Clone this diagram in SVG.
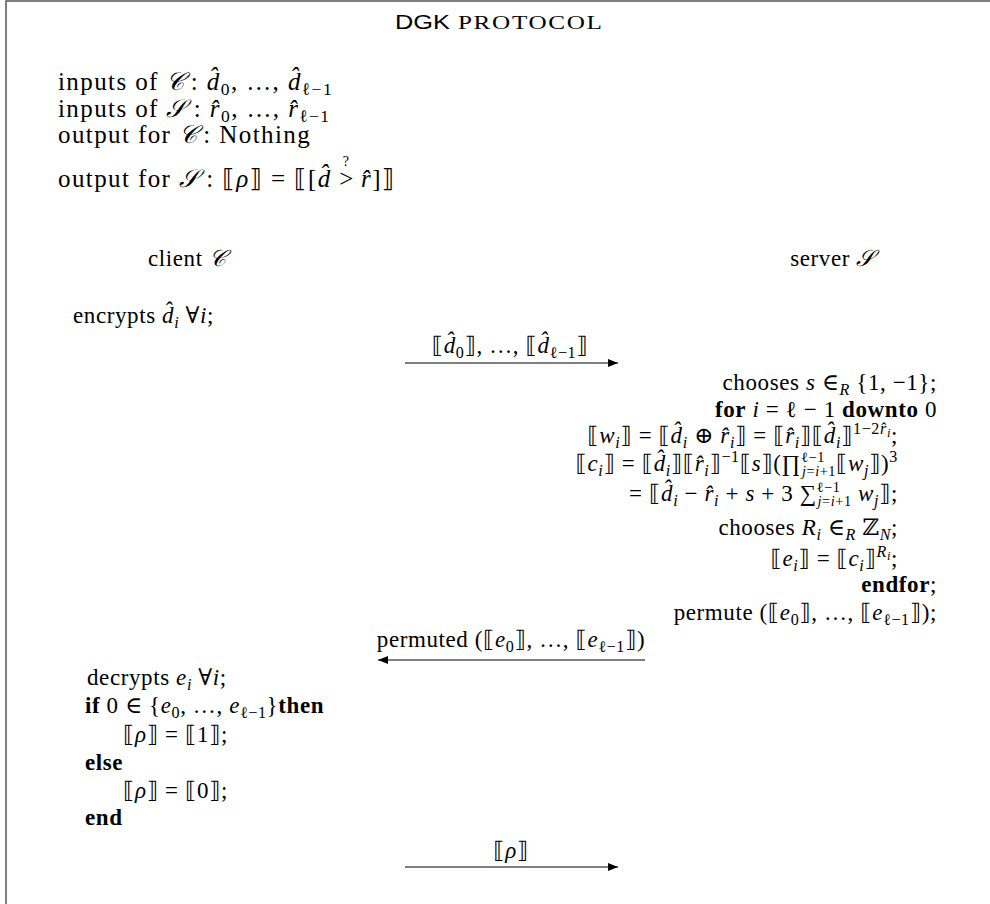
<svg xmlns="http://www.w3.org/2000/svg" width="990" height="904" viewBox="0 0 990 904">
<style>
text{font-family:"Liberation Serif","DejaVu Serif","DejaVu Sans",serif;fill:#000}
.big{font-size:25px;letter-spacing:1.4px}
.sm{font-size:23px;letter-spacing:0.6px}
.i{font-style:italic}
.b{font-weight:bold}
.s{font-size:70%}
.l{font-size:62%}
.ss{font-size:55%}
.ln{stroke:#000;stroke-width:1.2;fill:none}
.frame{stroke:#555;stroke-width:1.5;fill:none}
</style>
<defs>
<marker id="ah" viewBox="0 0 10 8" refX="10" refY="4" markerWidth="11" markerHeight="8" markerUnits="userSpaceOnUse" orient="auto"><path d="M0,0 L10,4 L0,8 z" fill="#000"/></marker>
</defs>
<rect width="990" height="904" fill="#fff"/>
<path class="frame" d="M6,904 V1 H990"/>

<g id="title">
<text transform="scale(1.2,1)" x="329.2" y="29" font-size="21" textLength="45.8" lengthAdjust="spacingAndGlyphs" style="font-family:'Liberation Sans',sans-serif">DGK</text>
<text transform="scale(1.4,1)" x="327.1" y="29" font-size="18" textLength="102.9" lengthAdjust="spacing">PROTOCOL</text>
</g>

<g id="io">
<text class="big" x="58" y="90">inputs of <tspan class="i">𝒞</tspan><tspan dx="5">: </tspan><tspan class="i">d&#770;</tspan><tspan class="s" dy="5">0</tspan><tspan dy="-5">, …, </tspan><tspan class="i">d&#770;</tspan><tspan class="s" dy="5">ℓ−1</tspan></text>
<text class="big" x="58" y="117">inputs of <tspan class="i">𝒮</tspan><tspan dx="7">: </tspan><tspan class="i">r&#770;</tspan><tspan class="s" dy="5">0</tspan><tspan dy="-5">, …, </tspan><tspan class="i">r&#770;</tspan><tspan class="s" dy="5">ℓ−1</tspan></text>
<text class="big" x="58" y="143">output for <tspan class="i">𝒞</tspan><tspan dx="5">: Nothing</tspan></text>
<text class="big" x="58" y="187">output for <tspan class="i">𝒮</tspan><tspan dx="7">: ⟦</tspan><tspan class="i">ρ</tspan>⟧ = ⟦[<tspan class="i">d&#770;</tspan> &gt;<tspan font-size="14" dx="-12" dy="-21">?</tspan><tspan dx="3" dy="21"> </tspan><tspan class="i">r&#770;</tspan>]⟧</text>
</g>

<g id="client">
<text class="sm" x="148" y="266">client <tspan class="i">𝒞</tspan></text>
</g>
<g id="server">
<text class="sm" x="875" y="266" text-anchor="end">server <tspan class="i">𝒮</tspan></text>
</g>

<g id="client-encrypt">
<text class="sm" x="73" y="323">encrypts <tspan class="i">d&#770;</tspan><tspan class="s i" dy="5">i</tspan><tspan dy="-5"> ∀</tspan><tspan class="i">i</tspan>;</text>
</g>

<g id="server-compute">
<text class="sm" x="937" y="390" text-anchor="end">chooses <tspan class="i">s</tspan> ∈<tspan class="s i" dy="5">R</tspan><tspan dy="-5"> {1, −1};</tspan></text>
<text class="sm" x="937" y="417" text-anchor="end"><tspan class="b">for</tspan> <tspan class="i">i</tspan> = ℓ − 1 <tspan class="b">downto</tspan> 0</text>
<text class="sm" x="898" y="443" text-anchor="end">⟦<tspan class="i">w</tspan><tspan class="s i" dy="5">i</tspan><tspan dy="-5">⟧ = ⟦</tspan><tspan class="i">d&#770;</tspan><tspan class="s i" dy="5">i</tspan><tspan dy="-5"> ⊕ </tspan><tspan class="i">r&#770;</tspan><tspan class="s i" dy="5">i</tspan><tspan dy="-5">⟧ = ⟦</tspan><tspan class="i">r&#770;</tspan><tspan class="s i" dy="5">i</tspan><tspan dy="-5">⟧⟦</tspan><tspan class="i">d&#770;</tspan><tspan class="s i" dy="5">i</tspan><tspan dy="-5">⟧</tspan><tspan class="s" dy="-9">1−2</tspan><tspan class="s i">r&#770;</tspan><tspan class="ss i" dy="3">i</tspan><tspan dy="6">;</tspan></text>
<text class="sm" x="898" y="471" text-anchor="end">⟦<tspan class="i">c</tspan><tspan class="s i" dy="5">i</tspan><tspan dy="-5">⟧ = ⟦</tspan><tspan class="i">d&#770;</tspan><tspan class="s i" dy="5">i</tspan><tspan dy="-5">⟧⟦</tspan><tspan class="i">r&#770;</tspan><tspan class="s i" dy="5">i</tspan><tspan dy="-5">⟧</tspan><tspan class="s" dy="-9">−1</tspan><tspan dy="9">⟦</tspan><tspan class="i">s</tspan>⟧(∏<tspan class="l" dy="-9">ℓ−1</tspan><tspan class="l i" dx="-23" dy="14">j</tspan><tspan class="l">=</tspan><tspan class="l i">i</tspan><tspan class="l">+1</tspan><tspan dy="-5">⟦</tspan><tspan class="i">w</tspan><tspan class="s i" dy="5">j</tspan><tspan dy="-5">⟧)</tspan><tspan class="s" dy="-9">3</tspan></text>
<text class="sm" x="898" y="501" text-anchor="end">= ⟦<tspan class="i">d&#770;</tspan><tspan class="s i" dy="5">i</tspan><tspan dy="-5"> − </tspan><tspan class="i">r&#770;</tspan><tspan class="s i" dy="5">i</tspan><tspan dy="-5"> + </tspan><tspan class="i">s</tspan> + 3 ∑<tspan class="l" dy="-9">ℓ−1</tspan><tspan class="l i" dx="-23" dy="14">j</tspan><tspan class="l">=</tspan><tspan class="l i">i</tspan><tspan class="l">+1</tspan><tspan dy="-5"> </tspan><tspan class="i">w</tspan><tspan class="s i" dy="5">j</tspan><tspan dy="-5">⟧;</tspan></text>
<text class="sm" x="898" y="535" text-anchor="end">chooses <tspan class="i">R</tspan><tspan class="s i" dy="5">i</tspan><tspan dy="-5"> ∈</tspan><tspan class="s i" dy="5">R</tspan><tspan dy="-5"> ℤ</tspan><tspan class="s i" dy="5">N</tspan><tspan dy="-5">;</tspan></text>
<text class="sm" x="898" y="566" text-anchor="end">⟦<tspan class="i">e</tspan><tspan class="s i" dy="5">i</tspan><tspan dy="-5">⟧ = ⟦</tspan><tspan class="i">c</tspan><tspan class="s i" dy="5">i</tspan><tspan dy="-5">⟧</tspan><tspan class="s i" dy="-9">R</tspan><tspan class="ss i" dy="3">i</tspan><tspan dy="6">;</tspan></text>
<text class="sm" x="937" y="592" text-anchor="end"><tspan class="b">endfor</tspan>;</text>
<text class="sm" x="937" y="620" text-anchor="end">permute (⟦<tspan class="i">e</tspan><tspan class="s" dy="5">0</tspan><tspan dy="-5">⟧, …, ⟦</tspan><tspan class="i">e</tspan><tspan class="s" dy="5">ℓ−1</tspan><tspan dy="-5">⟧);</tspan></text>
</g>

<g id="client-decide">
<text class="sm" x="87" y="685">decrypts <tspan class="i">e</tspan><tspan class="s i" dy="5">i</tspan><tspan dy="-5"> ∀</tspan><tspan class="i">i</tspan>;</text>
<text class="sm" x="85" y="713"><tspan class="b">if</tspan> 0 ∈ {<tspan class="i">e</tspan><tspan class="s" dy="5">0</tspan><tspan dy="-5">, …, </tspan><tspan class="i">e</tspan><tspan class="s" dy="5">ℓ−1</tspan><tspan dy="-5">}</tspan><tspan class="b">then</tspan></text>
<text class="sm" x="123" y="742">⟦<tspan class="i">ρ</tspan>⟧ = ⟦1⟧;</text>
<text class="sm b" x="85" y="770">else</text>
<text class="sm" x="123" y="798">⟦<tspan class="i">ρ</tspan>⟧ = ⟦0⟧;</text>
<text class="sm b" x="85" y="825">end</text>
</g>

<g id="connectors">
<line class="ln" x1="405" y1="363" x2="618" y2="363" marker-end="url(#ah)"/>
<text class="sm" x="510" y="353" text-anchor="middle">⟦<tspan class="i">d&#770;</tspan><tspan class="s" dy="5">0</tspan><tspan dy="-5">⟧, …, ⟦</tspan><tspan class="i">d&#770;</tspan><tspan class="s" dy="5">ℓ−1</tspan><tspan dy="-5">⟧</tspan></text>
<line class="ln" x1="645" y1="660" x2="378" y2="660" marker-end="url(#ah)"/>
<text class="sm" x="511" y="647" text-anchor="middle">permuted (⟦<tspan class="i">e</tspan><tspan class="s" dy="5">0</tspan><tspan dy="-5">⟧, …, ⟦</tspan><tspan class="i">e</tspan><tspan class="s" dy="5">ℓ−1</tspan><tspan dy="-5">⟧)</tspan></text>
<line class="ln" x1="405" y1="867" x2="618" y2="867" marker-end="url(#ah)"/>
<text class="sm" x="511" y="858" text-anchor="middle">⟦<tspan class="i">ρ</tspan>⟧</text>
</g>
</svg>
